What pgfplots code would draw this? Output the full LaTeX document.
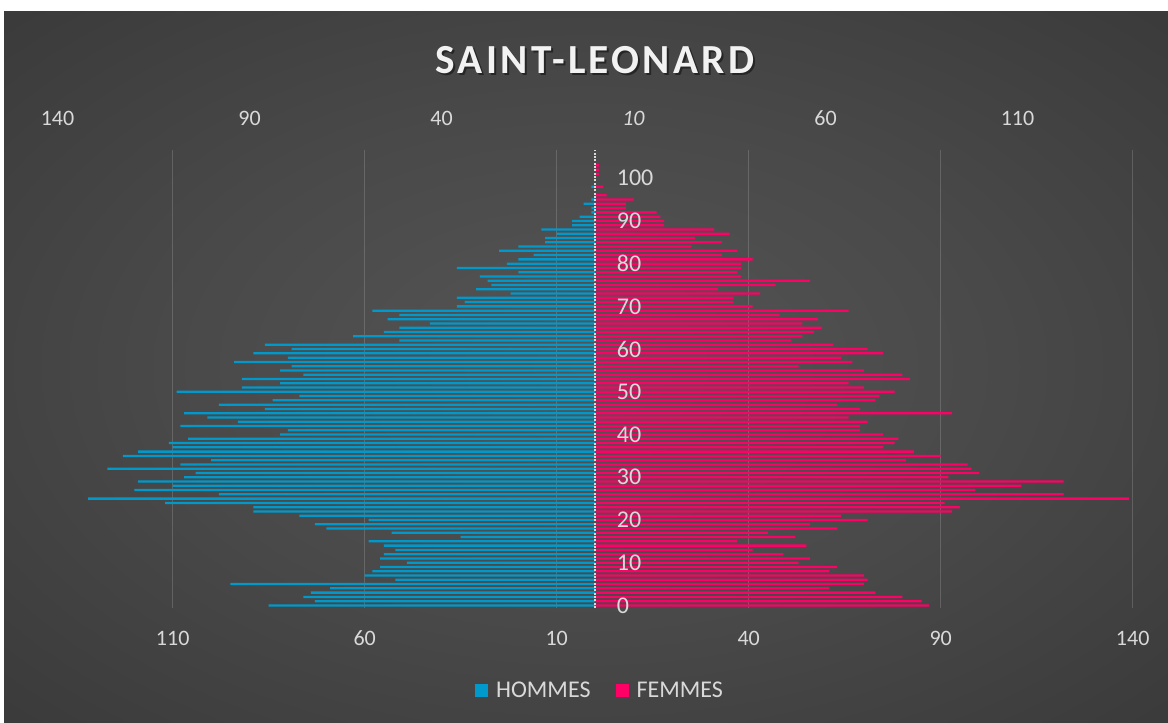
\documentclass[border=0pt]{standalone}
\usepackage{fontspec}
\setmainfont{Carlito}
\newfontfamily\titlefont[LetterSpace=8]{Carlito}
\usepackage{pgfplots}
\pgfplotsset{compat=1.18}
\definecolor{hblue}{HTML}{0099CC}
\definecolor{fpink}{HTML}{FF0066}
\definecolor{tickgray}{HTML}{D9D9D9}
\definecolor{bgA}{HTML}{555555}
\definecolor{bgB}{HTML}{494949}
\definecolor{bgC}{HTML}{353535}
\definecolor{bgD}{HTML}{262626}
\pgfdeclareradialshading{bgshade}{\pgfpoint{0bp}{0bp}}{color(0bp)=(bgA); color(18bp)=(bgB); color(42bp)=(bgC); color(70bp)=(bgD)}
\begin{document}
\begin{tikzpicture}
\useasboundingbox (0pt,0pt) rectangle (876pt,541.5pt);
\fill[white] (0pt,0pt) rectangle (876pt,541.5pt);
\shade[shading=bgshade] (3pt,0pt) rectangle (876pt,532.5pt);
\node[text=black, opacity=0.45] at (447.75pt,495pt) {\titlefont\bfseries\fontsize{31}{37}\selectfont SAINT-LEONARD};
\node[text=white!95!black] at (446.25pt,496.5pt) {\titlefont\bfseries\fontsize{31}{37}\selectfont SAINT-LEONARD};
\begin{axis}[
 at={(43.125pt,85.5pt)}, anchor=south west, scale only axis,
 width=806.4pt, height=343.5pt,
 xmin=-140, xmax=140, ymin=-0.6, ymax=106.6,
 axis line style={draw=none},
 major tick length=0pt,
 xtick={-110,-60,-10,40,90,140},
 xticklabels={110,60,10,40,90,140},
 xticklabel style={font=\fontsize{16.5}{18}\selectfont, text=tickgray, anchor=center, yshift=-22.5pt},
 xmajorgrids, grid style={draw=white, draw opacity=0.16, line width=1pt},
 ytick=\empty,
 /pgf/number format/assume math mode=true,
 legend columns=2,
 legend style={at={(0.505,-0.181)}, anchor=center, draw=none, fill=none, text=tickgray,
   font=\fontsize{18}{20}\selectfont, /tikz/every even column/.append style={column sep=17pt}},
 clip=false,
]
\addplot[xbar, bar width=1.7pt, bar shift=0pt, draw=none, fill=hblue,
  legend image code/.code={\fill[hblue] (0pt,-4.9pt) rectangle (9.75pt,4.9pt); \path (13.5pt,0pt);}]
coordinates {
(-85,0) (-73,1) (-76,2) (-74,3) (-69,4) (-95,5) (-52,6) (-60,7) (-58,8) (-56,9)
(-49,10) (-56,11) (-55,12) (-52,13) (-55,14) (-59,15) (-35,16) (-53,17) (-70,18) (-73,19)
(-59,20) (-77,21) (-89,22) (-89,23) (-112,24) (-132,25) (-98,26) (-120,27) (-110,28) (-119,29)
(-107,30) (-104,31) (-127,32) (-108,33) (-100,34) (-123,35) (-119,36) (-110,37) (-111,38) (-106,39)
(-82,40) (-80,41) (-108,42) (-93,43) (-101,44) (-107,45) (-86,46) (-98,47) (-84,48) (-77,49)
(-109,50) (-92,51) (-82,52) (-92,53) (-76,54) (-82,55) (-79,56) (-94,57) (-80,58) (-89,59)
(-79,60) (-86,61) (-51,62) (-63,63) (-55,64) (-51,65) (-43,66) (-54,67) (-51,68) (-58,69)
(-36,70) (-34,71) (-36,72) (-22,73) (-31,74) (-27,75) (-28,76) (-30,77) (-20,78) (-36,79)
(-23,80) (-20,81) (-16,82) (-25,83) (-20,84) (-13,85) (-13,86) (-10,87) (-14,88) (-6,89)
(-6,90) (-4,91) (-1,92) (-1,93) (-3,94) (-1,95) (-1,98)
};
\addlegendentry{HOMMES}
\addplot[xbar, bar width=1.7pt, bar shift=0pt, draw=none, fill=fpink,
  legend image code/.code={\fill[fpink] (0pt,-4.9pt) rectangle (9.75pt,4.9pt); \path (13.5pt,0pt);}]
coordinates {
(87,0) (85,1) (80,2) (73,3) (61,4) (70,5) (71,6) (70,7) (61,8) (63,9)
(53,10) (56,11) (49,12) (41,13) (55,14) (37,15) (52,16) (45,17) (63,18) (56,19)
(71,20) (64,21) (93,22) (95,23) (91,24) (139,25) (122,26) (99,27) (111,28) (122,29)
(92,30) (100,31) (98,32) (97,33) (81,34) (90,35) (83,36) (75,37) (78,38) (79,39)
(75,40) (69,41) (69,42) (71,43) (66,44) (93,45) (69,46) (63,47) (73,48) (74,49)
(78,50) (70,51) (66,52) (82,53) (80,54) (70,55) (53,56) (67,57) (64,58) (75,59)
(71,60) (62,61) (51,62) (54,63) (57,64) (59,65) (54,66) (58,67) (48,68) (66,69)
(41,70) (36,71) (36,72) (43,73) (32,74) (47,75) (56,76) (38,77) (37,78) (38,79)
(38,80) (41,81) (33,82) (37,83) (25,84) (33,85) (26,86) (35,87) (31,88) (18,89)
(18,90) (17,91) (16,92) (8,93) (8,94) (10,95) (3,96) (2,98) (1,101) (1,102) (1,103)
};
\addlegendentry{FEMMES}
\draw[tickgray, line width=1.9pt, dash pattern=on 1.5pt off 1pt] (axis cs:0,-0.6) -- (axis cs:0,106.6);
\pgfplotsinvokeforeach{0,10,...,100}{\node[anchor=west, text=tickgray, font=\fontsize{18}{20}\selectfont, inner sep=0pt] at (axis cs:5.6,#1) {#1};}
\end{axis}
\begin{axis}[
 at={(43.125pt,85.5pt)}, anchor=south west, scale only axis,
 width=806.4pt, height=343.5pt,
 xmin=-140, xmax=140, ymin=0, ymax=1,
 axis x line*=top, axis y line=none,
 x axis line style={draw=none},
 major tick length=0pt,
 xtick={-140,-90,-40,10,60,110},
 xticklabels={140,90,40,\textit{10},60,110},
 xticklabel style={font=\fontsize{16.5}{18}\selectfont, text=tickgray, anchor=center, yshift=24pt},
 /pgf/number format/assume math mode=true,
]
\addplot[draw=none] coordinates {(0,0.5)};
\end{axis}
\end{tikzpicture}
\end{document}
